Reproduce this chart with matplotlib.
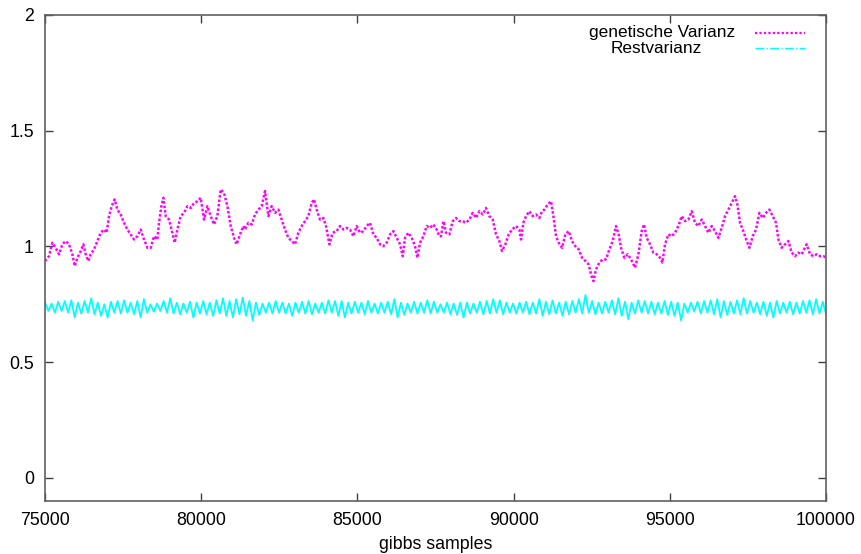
import numpy as np
import matplotlib
matplotlib.use("Agg")
import matplotlib.pyplot as plt

# gibbs sampler trace: genetic variance (magenta), residual variance (cyan)
gen_x = [75000, 75128, 75235, 75341, 75448, 75555, 75662, 75768, 75875, 75950,
         76035, 76142, 76227, 76302, 76387, 76462, 76569, 76675, 76782, 76889,
         76974, 77049, 77134, 77230, 77315, 77422, 77529, 77636, 77742, 77849,
         77956, 78062, 78169, 78276, 78382, 78489, 78596, 78649, 78724, 78788,
         78863, 78969, 79076, 79151, 79236, 79343, 79449, 79556, 79663, 79770,
         79876, 79983, 80090, 80196, 80303, 80410, 80516, 80623, 80730, 80837,
         80943, 81050, 81135, 81242, 81349,
         81402, 81509, 81615, 81722, 81829, 81936, 82042, 82149, 82256, 82362,
         82469, 82576, 82682, 82789, 82896, 83003, 83109, 83216, 83323, 83429,
         83536, 83611, 83696, 83803, 83910, 83995, 84102, 84208, 84336, 84443,
         84550, 84656, 84763, 84870, 84977, 85083, 85190, 85297, 85403, 85510,
         85617, 85723, 85830, 85937, 86044, 86150, 86257, 86364, 86449, 86524,
         86630, 86737, 86844, 86918, 87004, 87111, 87217, 87324, 87431, 87537,
         87623,
         87676, 87751, 87836, 87943, 88050, 88156, 88263, 88370, 88476, 88583,
         88690, 88796, 88903, 89010, 89117, 89223, 89330, 89437, 89543, 89629,
         89735, 89842, 89949, 90077, 90184, 90237, 90312, 90397, 90504, 90610,
         90717, 90824, 90909, 90984, 91090, 91197, 91272, 91357, 91443, 91549,
         91656, 91763, 91869, 91976, 92083, 92189, 92296, 92403, 92478, 92552,
         92638, 92744, 92851, 92958, 93064, 93171, 93278, 93363, 93438, 93545,
         93651, 93758,
         93886, 93993, 94099, 94174, 94260, 94366, 94473, 94580, 94686, 94761,
         94846, 94953, 95060, 95166, 95273, 95380, 95487, 95593, 95700, 95807,
         95913, 96020, 96127, 96233, 96340, 96447, 96554, 96660, 96767, 96874,
         96980, 97087, 97162, 97247, 97354, 97461, 97546, 97653, 97759, 97866,
         97973, 98079, 98186, 98293, 98399, 98474, 98581, 98688, 98794, 98901,
         99008, 99114, 99221, 99381, 99488, 99595, 99701, 99808, 99915, 100000]

gen_var = [0.937, 0.958, 1.016, 0.994, 0.966, 1.009, 1.023, 1.009, 0.966, 0.915,
           0.950, 0.980, 1.009, 0.966, 0.937, 0.966, 0.987, 1.023, 1.059, 1.073,
           1.059, 1.131, 1.174, 1.203, 1.159, 1.138, 1.102, 1.073, 1.052, 1.030,
           1.044, 1.073, 1.030, 0.994, 0.994, 1.044, 1.030, 1.102, 1.174, 1.210,
           1.131, 1.116, 1.059, 1.016, 1.073, 1.131, 1.145, 1.174, 1.166, 1.188,
           1.195, 1.210, 1.116, 1.174, 1.131, 1.095, 1.131, 1.246, 1.231, 1.174,
           1.088, 1.037, 1.009, 1.052, 1.088,
           1.073, 1.102, 1.095, 1.138, 1.159, 1.174, 1.239, 1.131, 1.174, 1.145,
           1.159, 1.116, 1.073, 1.037, 1.023, 1.009, 1.059, 1.088, 1.109, 1.131,
           1.188, 1.203, 1.159, 1.116, 1.123, 1.088, 1.009, 1.059, 1.066, 1.088,
           1.073, 1.080, 1.073, 1.044, 1.088, 1.059, 1.066, 1.088, 1.102, 1.052,
           1.037, 1.009, 1.001, 1.016, 1.052, 1.066, 1.037, 1.009, 0.958, 1.037,
           1.059, 1.037, 1.001, 0.951, 1.016, 1.044, 1.088, 1.080, 1.095, 1.073,
           1.044,
           1.044, 1.109, 1.059, 1.052, 1.109, 1.123, 1.109, 1.109, 1.102, 1.116,
           1.145, 1.123, 1.152, 1.138, 1.166, 1.131, 1.116, 1.052, 1.023, 0.980,
           1.009, 1.052, 1.073, 1.088, 1.073, 1.030, 1.102, 1.131, 1.152, 1.131,
           1.138, 1.123, 1.152, 1.159, 1.181, 1.195, 1.131, 1.044, 1.016, 0.994,
           1.052, 1.066, 1.023, 1.001, 0.987, 0.951, 0.937, 0.922, 0.879, 0.850,
           0.901, 0.930, 0.944, 0.944, 0.987, 1.023, 1.088, 1.052, 0.994, 0.951,
           0.966, 0.944,
           0.908, 0.966, 1.066, 1.095, 1.037, 1.009, 0.973, 0.966, 0.951, 0.930,
           1.009, 1.052, 1.044, 1.059, 1.088, 1.131, 1.109, 1.116, 1.152, 1.102,
           1.088, 1.116, 1.088, 1.059, 1.088, 1.066, 1.037, 1.080, 1.131, 1.159,
           1.188, 1.217, 1.181, 1.102, 1.066, 1.023, 0.994, 1.044, 1.073, 1.145,
           1.123, 1.145, 1.159, 1.131, 1.102, 1.030, 0.994, 1.009, 1.023, 0.973,
           0.958, 0.973, 0.966, 1.009, 0.966, 0.958, 0.966, 0.958, 0.958, 0.951]

# residual variance, read as alternating upper/lower swings of the noisy band
rest_var = [0.757, 0.721, 0.753, 0.714, 0.761, 0.721, 0.764, 0.714, 0.767, 0.693,
            0.757, 0.710, 0.764, 0.714, 0.776, 0.707, 0.757, 0.700, 0.750, 0.693,
            0.761, 0.714, 0.764, 0.710, 0.767, 0.714, 0.757, 0.707, 0.764, 0.693,
            0.772, 0.714, 0.750, 0.718, 0.753, 0.721, 0.764, 0.714, 0.776, 0.710,
            0.757, 0.707, 0.753, 0.714, 0.761, 0.693, 0.757, 0.710, 0.764, 0.707,
            0.757, 0.700, 0.767, 0.710, 0.776, 0.700, 0.764, 0.693, 0.772, 0.707,
            0.779, 0.700, 0.764, 0.681, 0.757, 0.704, 0.753, 0.714, 0.757, 0.710,
            0.764, 0.714, 0.757, 0.710, 0.753, 0.700, 0.757, 0.714, 0.761, 0.710,
            0.764, 0.707, 0.753, 0.714, 0.757, 0.710, 0.767, 0.714, 0.764, 0.700,
            0.764, 0.693, 0.757, 0.710, 0.761, 0.714, 0.757, 0.707, 0.764, 0.714,
            0.753, 0.710, 0.757, 0.714, 0.761, 0.707, 0.772, 0.693, 0.757, 0.704,
            0.753, 0.714, 0.761, 0.710, 0.757, 0.714, 0.767, 0.710, 0.761, 0.714,
            0.750, 0.714, 0.757, 0.707, 0.753, 0.704, 0.757, 0.693, 0.757, 0.710,
            0.753, 0.714, 0.761, 0.707, 0.764, 0.710, 0.772, 0.714, 0.767, 0.707,
            0.757, 0.714, 0.753, 0.710, 0.757, 0.714, 0.761, 0.707, 0.757, 0.710,
            0.772, 0.700, 0.761, 0.707, 0.767, 0.710, 0.757, 0.700, 0.761, 0.707,
            0.764, 0.714, 0.772, 0.710, 0.790, 0.714, 0.764, 0.707, 0.757, 0.710,
            0.761, 0.714, 0.767, 0.707, 0.776, 0.700, 0.761, 0.685, 0.757, 0.710,
            0.767, 0.714, 0.764, 0.710, 0.761, 0.707, 0.757, 0.710, 0.764, 0.704,
            0.761, 0.700, 0.757, 0.681, 0.753, 0.714, 0.757, 0.718, 0.761, 0.710,
            0.764, 0.714, 0.767, 0.707, 0.772, 0.693, 0.764, 0.704, 0.761, 0.710,
            0.767, 0.707, 0.776, 0.710, 0.764, 0.714, 0.757, 0.707, 0.761, 0.700,
            0.757, 0.693, 0.764, 0.710, 0.757, 0.714, 0.761, 0.707, 0.757, 0.710,
            0.764, 0.714, 0.767, 0.707, 0.772, 0.710, 0.761, 0.707]
rest_x = np.linspace(75000, 100000, len(rest_var))

x_ticks = [75000, 80000, 85000, 90000, 95000, 100000]
y_ticks = [0, 0.5, 1, 1.5, 2]
y_labels = ["0", "0.5", "1", "1.5", "2"]

plt.rcParams["font.family"] = ["Liberation Sans", "DejaVu Sans"]
fs = 12.8

fig = plt.figure(figsize=(8.61, 5.54), dpi=100)
ax = fig.add_axes([0.0523, 0.0957, 0.9071, 0.8773])

ax.plot(rest_x, rest_var, color="#00ffff", lw=1.3, zorder=2)
ax.plot(gen_x, gen_var, color="#ff00ff", lw=1.8, linestyle=(0, (1, 0.8)), zorder=3)

ax.set_xlim(75000, 100000)
ax.set_ylim(-0.1, 2)
ax.set_xticks(x_ticks)
ax.set_xticklabels([str(t) for t in x_ticks])
ax.set_yticks(y_ticks)
ax.set_yticklabels(y_labels)
ax.tick_params(direction="in", length=6, width=1, color="#404040",
               top=True, right=True, labelsize=fs, pad=8)
for s in ax.spines.values():
    s.set_color("#606060")
    s.set_linewidth(1.2)

ax.set_xlabel("gibbs samples", fontsize=fs, labelpad=5)

# gnuplot-style key in the upper right corner
key_fs = 12.4
fig.text(0.769, 0.942, "genetische Varianz", fontsize=key_fs, ha="center", va="center")
fig.text(0.762, 0.912, "Restvarianz", fontsize=key_fs, ha="center", va="center")
fig.add_artist(plt.Line2D([0.877, 0.935], [0.940, 0.940], color="#ff00ff",
                          lw=1.6, linestyle=(0, (1, 1))))
fig.add_artist(plt.Line2D([0.877, 0.935], [0.913, 0.913], color="#00ffff",
                          lw=1.0, linestyle="-."))

fig.savefig("out.png", dpi=100)
